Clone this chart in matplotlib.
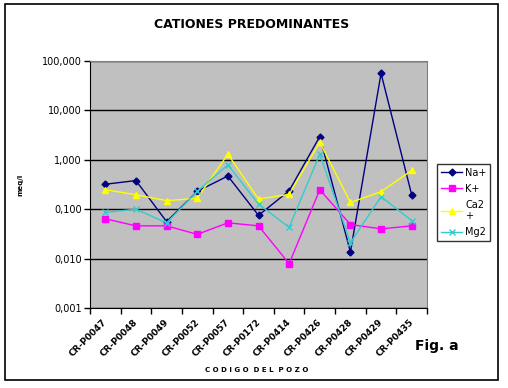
import matplotlib
matplotlib.use("Agg")
import matplotlib.pyplot as plt
from matplotlib.patches import Rectangle
import numpy as np

categories = ["CR-P0047", "CR-P0048", "CR-P0049", "CR-P0052", "CR-P0057", "CR-P0172",
              "CR-P0414", "CR-P0426", "CR-P0428", "CR-P0429", "CR-P0435"]
na = [0.32, 0.38, 0.056, 0.23, 0.47, 0.075, 0.236, 2.96, 0.0136, 56.0, 0.196]
k = [0.064, 0.046, 0.046, 0.031, 0.053, 0.046, 0.0079, 0.248, 0.049, 0.040, 0.046]
ca = [0.248, 0.196, 0.149, 0.166, 1.30, 0.16, 0.20, 2.27, 0.137, 0.226, 0.61]
mg = [0.086, 0.10, 0.053, 0.23, 0.79, 0.127, 0.043, 1.30, 0.021, 0.18, 0.059]
ytick_vals = [0.001, 0.01, 0.1, 1, 10, 100]
ytick_labels = ["0,001", "0,010", "0,100", "1,000", "10,000", "100,000"]

fig = plt.figure(figsize=(5.08, 3.88), dpi=100)
fig.patches.append(Rectangle((5/508, 1-380/388), 493/508, 376/388, transform=fig.transFigure,
                             fill=False, edgecolor="black", linewidth=1.2))
ax = fig.add_axes([90/508, 1-308/388, 337/508, 247/388])
ax.set_facecolor("#c0c0c0")
x = np.arange(len(categories))
ax.plot(x, na, color="#000080", marker="D", markersize=3.5, linewidth=1, label="Na+")
ax.plot(x, k, color="#ff00ff", marker="s", markersize=4.5, linewidth=1, label="K+")
ax.plot(x, ca, color="#ffff00", marker="^", markersize=5, linewidth=1, label="Ca2\n+")
ax.plot(x, mg, color="#33cccc", marker="x", markersize=4, linewidth=1, label="Mg2")
ax.set_yscale("log")
ax.set_ylim(0.001, 100)
ax.set_xlim(-0.5, len(categories) - 0.5)
ax.set_yticks(ytick_vals)
ax.set_yticklabels(ytick_labels, fontsize=7)
ax.minorticks_off()
ax.yaxis.grid(True, color="black", linewidth=1)
ax.set_axisbelow(True)
ax.set_xticks(np.arange(len(categories) + 1) - 0.5)
ax.set_xticklabels([])
ax.tick_params(axis="x", length=4, width=1)
ax.tick_params(axis="y", length=4, width=1, pad=2)
for i, c in enumerate(categories):
    ax.annotate(c, xy=(i, 0), xycoords=("data", "axes fraction"), xytext=(-2, -7),
                textcoords="offset points", rotation=45, ha="right", va="top",
                rotation_mode="anchor", fontsize=6.5, fontweight="bold")
for s in ["top", "right"]:
    ax.spines[s].set_color("#808080")
ax.spines["left"].set_color("black")
ax.spines["bottom"].set_color("black")

leg = fig.legend(loc="upper left", bbox_to_anchor=(437/508, 1-164/388), fontsize=7,
                 frameon=True, fancybox=False, edgecolor="black", handlelength=2.2,
                 borderpad=0.4, labelspacing=0.6, handletextpad=0.3, borderaxespad=0)
leg.get_frame().set_linewidth(1)

fig.text(252/508, 1-25/388, "CATIONES PREDOMINANTES", ha="center", va="center",
         fontsize=9, fontweight="bold")
fig.text(20/508, 1-185/388, "meq/l", ha="center", va="center", rotation=90,
         fontsize=5, fontweight="bold")
fig.text(257/508, 1-370/388, "C O D I G O  D E L  P O Z O", ha="center", va="center",
         fontsize=5, fontweight="bold")
fig.text(415/508, 1-346/388, "Fig. a", ha="left", va="center", fontsize=10, fontweight="bold")

fig.savefig("out.png", dpi=100)
